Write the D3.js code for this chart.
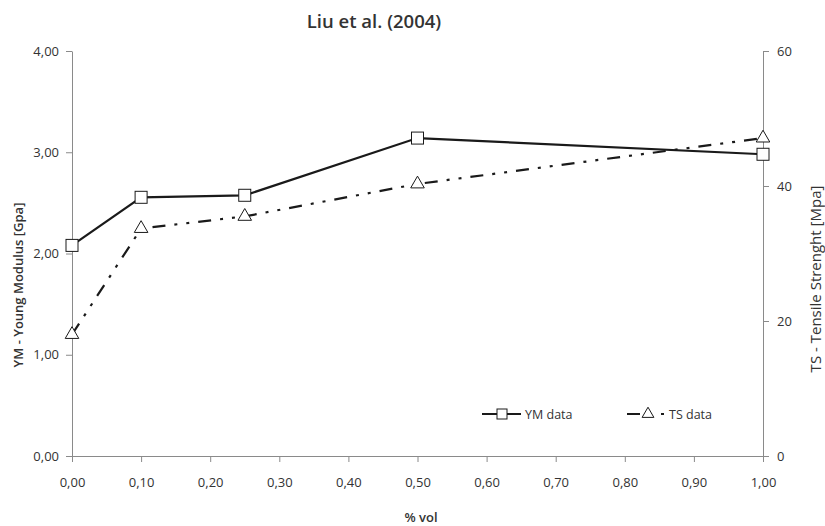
<!DOCTYPE html>
<html>
<head>
<meta charset="utf-8">
<script src="https://cdn.jsdelivr.net/npm/d3@7"></script>
<style>
  html, body { margin: 0; padding: 0; background: #fff; }
  svg { display: block; }
  text { font-family: "Open Sans", "Noto Sans", sans-serif; }
</style>
</head>
<body>
<svg id="chart" width="825" height="526"></svg>
<script>
const titleText = "Liu et al. (2004)";
const xValues = [0.00, 0.10, 0.25, 0.50, 1.00];
const ymValues = [2.08, 2.555, 2.575, 3.14, 2.98];
const tsValues = [18.0, 33.7, 35.5, 40.3, 47.1];
const xTicks = [0, 0.1, 0.2, 0.3, 0.4, 0.5, 0.6, 0.7, 0.8, 0.9, 1.0];
const yLeftTicks = [0, 1, 2, 3, 4];
const yRightTicks = [0, 20, 40, 60];
const seriesNames = ["YM data", "TS data"];
const leftAxisTitle = "YM - Young Modulus [Gpa]";
const rightAxisTitle = "TS - Tensile Strenght [Mpa]";
const xAxisTitle = "% vol";

const svg = d3.select("#chart");
const L = 72, R = 763, T = 51, B = 456;
const axisColor = "#8a8a8a";
const textColor = "#333";
const lineColor = "#1a1a1a";
const fmt2 = d => d.toFixed(2).replace(".", ",");

const x = d3.scaleLinear().domain([0, 1]).range([L, R]);
const yL = d3.scaleLinear().domain([0, 4]).range([B, T]);
const yR = d3.scaleLinear().domain([0, 60]).range([B, T]);

function styleAxis(g) {
  g.select(".domain").attr("stroke", axisColor).attr("stroke-width", 1);
  g.selectAll(".tick line").attr("stroke", axisColor);
  g.selectAll(".tick text").attr("fill", textColor)
    .style("font-family", '"Open Sans", sans-serif').style("font-size", "13px");
}

svg.append("g").attr("transform", `translate(0,${B})`)
  .call(d3.axisBottom(x).tickValues(xTicks).tickFormat(fmt2).tickSize(6).tickSizeOuter(0).tickPadding(16))
  .call(styleAxis);

svg.append("g").attr("transform", `translate(${L},0)`)
  .call(d3.axisLeft(yL).tickValues(yLeftTicks).tickFormat(fmt2).tickSize(6).tickSizeOuter(0).tickPadding(7))
  .call(styleAxis);

svg.append("g").attr("transform", `translate(${R},0)`)
  .call(d3.axisRight(yR).tickValues(yRightTicks).tickFormat(d3.format("d")).tickSize(6).tickSizeOuter(0).tickPadding(8))
  .call(styleAxis);

// Titles
svg.append("text").attr("x", 374).attr("y", 28).attr("text-anchor", "middle")
  .attr("fill", "#333").style("font-size", "18.5px").style("font-weight", "600").text(titleText);

svg.append("text").attr("transform", `translate(23,285) rotate(-90)`).attr("text-anchor", "middle")
  .attr("fill", "#333").style("font-size", "13px").style("font-weight", "600").text(leftAxisTitle);

svg.append("text").attr("transform", `translate(821,279) rotate(-90)`).attr("text-anchor", "middle")
  .attr("fill", "#333").style("font-size", "15px").style("font-weight", "400").text(rightAxisTitle);

svg.append("text").attr("x", 421).attr("y", 522).attr("text-anchor", "middle")
  .attr("fill", "#333").style("font-size", "13px").style("font-weight", "600").text(xAxisTitle);

const ymData = xValues.map((v, i) => [v, ymValues[i]]);
const tsData = xValues.map((v, i) => [v, tsValues[i]]);
const dashTS = "13,9,3,9,3,9";

svg.append("path").datum(tsData)
  .attr("d", d3.line().x(d => x(d[0])).y(d => yR(d[1])))
  .attr("fill", "none").attr("stroke", lineColor).attr("stroke-width", 2.2)
  .attr("stroke-dasharray", dashTS);

svg.append("path").datum(ymData)
  .attr("d", d3.line().x(d => x(d[0])).y(d => yL(d[1])))
  .attr("fill", "none").attr("stroke", lineColor).attr("stroke-width", 2.2);

const tri = d3.symbol().type(d3.symbolTriangle).size(80);
const sq = 12;

svg.selectAll(".tri").data(tsData).join("path")
  .attr("transform", d => `translate(${x(d[0])},${yR(d[1])})`)
  .attr("d", tri).attr("fill", "#fff").attr("stroke", lineColor).attr("stroke-width", 1);

svg.selectAll(".sq").data(ymData).join("rect")
  .attr("x", d => x(d[0]) - sq / 2).attr("y", d => yL(d[1]) - sq / 2)
  .attr("width", sq).attr("height", sq)
  .attr("fill", "#fff").attr("stroke", lineColor).attr("stroke-width", 1);

// Legend
const ly = 414;
const lg = svg.append("g");
lg.append("line").attr("x1", 482).attr("x2", 521).attr("y1", ly).attr("y2", ly)
  .attr("stroke", lineColor).attr("stroke-width", 2);
lg.append("rect").attr("x", 497).attr("y", ly - 5).attr("width", 10).attr("height", 10)
  .attr("fill", "#fff").attr("stroke", lineColor).attr("stroke-width", 1);
lg.append("text").attr("x", 525).attr("y", ly + 4.5).attr("fill", textColor)
  .style("font-size", "12.5px").text(seriesNames[0]);

lg.append("line").attr("x1", 627).attr("x2", 666).attr("y1", ly).attr("y2", ly)
  .attr("stroke", lineColor).attr("stroke-width", 2).attr("stroke-dasharray", "13,9,3,9,3,9");
lg.append("path").attr("transform", `translate(648,${ly})`)
  .attr("d", d3.symbol().type(d3.symbolTriangle).size(60))
  .attr("fill", "#fff").attr("stroke", lineColor).attr("stroke-width", 1);
lg.append("text").attr("x", 669).attr("y", ly + 4.5).attr("fill", textColor)
  .style("font-size", "12.5px").text(seriesNames[1]);
</script>
</body>
</html>
